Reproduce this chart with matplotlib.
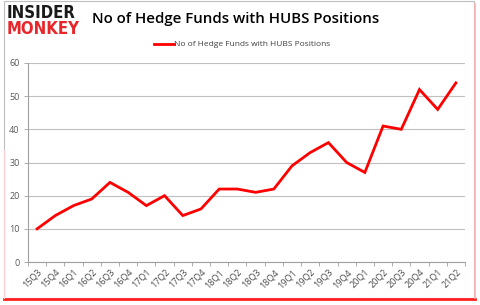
import matplotlib
matplotlib.use("Agg")
import matplotlib.pyplot as plt
from matplotlib.patches import Rectangle
from matplotlib.lines import Line2D

quarters = ["15Q3", "15Q4", "16Q1", "16Q2", "16Q3", "16Q4", "17Q1", "17Q2",
            "17Q3", "17Q4", "18Q1", "18Q2", "18Q3", "18Q4", "19Q1", "19Q2",
            "19Q3", "19Q4", "20Q1", "20Q2", "20Q3", "20Q4", "21Q1", "21Q2"]
funds = [10, 14, 17, 19, 24, 21, 17, 20, 14, 16, 22, 22, 21, 22, 29, 33,
         36, 30, 27, 41, 40, 52, 46, 54]
yticks = [0, 10, 20, 30, 40, 50, 60]
series_label = "No of Hedge Funds with HUBS Positions"
title = "No of Hedge Funds with HUBS Positions"

W, H = 480, 305
fig = plt.figure(figsize=(W / 100, H / 100), dpi=100)
plt.rcParams['font.family'] = ['Open Sans', 'DejaVu Sans']

def fx(px):
    return px / W

def fy(py):
    return 1 - py / H

# outer frame
fig.patches.append(Rectangle((fx(4), fy(298)), fx(474) - fx(4), fy(1) - fy(298),
                             transform=fig.transFigure, fill=False,
                             edgecolor="#bdbdbd", linewidth=0.8, zorder=0))
fig.lines.append(Line2D([fx(4), fx(475)], [fy(298.5), fy(298.5)], transform=fig.transFigure,
                        color="#ff2020", linewidth=2.0))
fig.lines.append(Line2D([fx(475), fx(475)], [fy(4), fy(298)], transform=fig.transFigure,
                        color="#ffb0b0", linewidth=1.2))
fig.lines.append(Line2D([fx(3.5), fx(3.5)], [fy(150), fy(298)], transform=fig.transFigure,
                        color="#ffd0d0", linewidth=0.8))

ax = fig.add_axes([fx(28), fy(262), fx(465) - fx(28), fy(63) - fy(262)])
x = list(range(len(quarters)))
ax.plot(x, funds, color="#ff0000", linewidth=2.0, solid_joinstyle="miter",
        label=series_label, zorder=3)
ax.set_xlim(-0.5, len(quarters) - 0.5)
ax.set_ylim(0, 60)
ax.set_yticks(yticks)
ax.set_yticklabels([str(v) for v in yticks], fontsize=6.5, color="#595959")
ax.set_xticks(x)
ax.set_xticklabels(quarters, rotation=45, fontsize=6.5, color="#4a4a4a",
                   ha="right", va="top", rotation_mode="anchor")
ax.set_xticks([i - 0.5 for i in range(len(quarters) + 1)], minor=True)
ax.tick_params(axis="x", which="major", length=0, pad=4)
ax.tick_params(axis="x", which="minor", length=3, color="#a0a0a0", width=0.6)
ax.tick_params(axis="y", length=3, color="#a0a0a0", width=0.6, pad=3)
ax.grid(axis="y", color="#c0c0c0", linewidth=0.8)
ax.set_axisbelow(True)
for s in ["top", "right"]:
    ax.spines[s].set_visible(False)
for s in ["left", "bottom"]:
    ax.spines[s].set_color("#a0a0a0")
    ax.spines[s].set_linewidth(0.8)

# title
fig.text(fx(236), fy(19), title, fontsize=10.8, fontweight="semibold",
         ha="center", va="center", color="#000000")
# legend
fig.lines.append(Line2D([fx(154), fx(174)], [fy(44), fy(44)], transform=fig.transFigure,
                        color="#ff0000", linewidth=2.0))
fig.text(fx(174), fy(44), series_label, fontsize=6, ha="left", va="center",
         color="#404040")

# logo
fig.text(fx(7), fy(13), "INSIDER", fontsize=12, fontweight="heavy",
         ha="left", va="center", color="#1a1a1a",
         family=["DejaVu Sans"], fontstretch="condensed")
fig.text(fx(7), fy(29.5), "MONKEY", fontsize=12, fontweight="heavy",
         ha="left", va="center", color="#e8262a",
         family=["DejaVu Sans"], fontstretch="condensed")

fig.savefig("out.png", dpi=100)
